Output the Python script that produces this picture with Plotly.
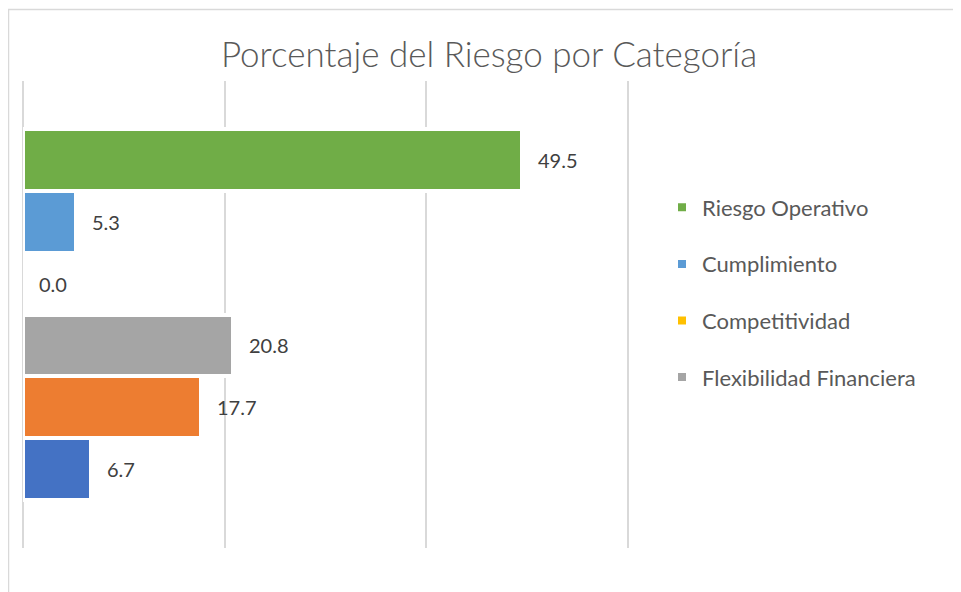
import plotly.graph_objects as go

# Data
series_names = ["Riesgo Operativo", "Cumplimiento", "Competitividad",
                "Flexibilidad Financiera", "Serie 5", "Serie 6"]
values = [49.5, 5.3, 0.0, 20.8, 17.7, 6.7]
colors = ["#70AD47", "#5B9BD5", "#FFC000", "#A5A5A5", "#ED7D31", "#4472C4"]
show_in_legend = [True, True, True, True, False, False]
x_ticks = [0, 20, 40, 60]

# page body has an 8px margin: work in figure coordinates = screen - 8
OFF = 8
W, H = 961 - OFF, 592 - OFF
x0_px, x60_px = 23, 628
x_max = 60.4
px_per_unit = (x60_px - x0_px) / x_ticks[-1]
L = x0_px - OFF
T = 81 - OFF
plot_right = x0_px + x_max * px_per_unit - OFF
plot_bottom = 548 - OFF
R = W - plot_right
B = H - plot_bottom
font_fam = "Lato, 'Open Sans', sans-serif"

fig = go.Figure()
for name, v, c, sl in zip(series_names, values, colors, show_in_legend):
    fig.add_trace(go.Bar(
        x=[v], y=[name], orientation="h", name=name,
        marker=dict(color=c, line=dict(color="white", width=4)),
        showlegend=sl, legendgroup=name, hoverinfo="x+name",
    ))
    fig.add_annotation(
        x=v, y=name, xref="x", yref="y", text=f"{v:.1f}",
        showarrow=False, xanchor="left", xshift=14,
        font=dict(family=font_fam, size=20, color="#404040"),
    )

# chart frame
pw = W - L - R
ph = H - T - B
def px_x(p):
    return (p - OFF - L) / pw
def px_y(p):
    return (plot_bottom - (p - OFF)) / ph

fig.add_shape(type="rect", xref="paper", yref="paper",
              x0=px_x(8.5), x1=px_x(980), y0=px_y(610), y1=px_y(9.5),
              line=dict(color="#D9D9D9", width=1.5), layer="below")

n = len(series_names)
pad = 1.274
fig.update_layout(
    width=W, height=H,
    margin=dict(l=L, r=R, t=T, b=B),
    paper_bgcolor="white", plot_bgcolor="white",
    barmode="overlay", bargap=0,
    title=dict(text="Porcentaje del Riesgo por Categoría",
               x=((221 + 757) / 2 - OFF) / W, xanchor="center", xref="container",
               y=1 - (55 - OFF) / H, yanchor="middle", yref="container",
               font=dict(family=font_fam, size=35, color="#595959", weight=300)),
    xaxis=dict(range=[x_ticks[0], x_max], tickvals=x_ticks, showticklabels=False,
               showgrid=True, gridcolor="#D9D9D9", gridwidth=1.5,
               zeroline=True, zerolinecolor="#D9D9D9", zerolinewidth=1.5,
               showline=False, fixedrange=True),
    yaxis=dict(type="category", categoryorder="array", categoryarray=series_names,
               range=[n - 1 + pad, -pad], showticklabels=False, showgrid=False,
               zeroline=False, showline=False, fixedrange=True),
    legend=dict(xref="container", yref="container", x=(662 - OFF) / W,
                y=1 - (292.5 - OFF) / H,
                xanchor="left", yanchor="middle", tracegroupgap=25,
                font=dict(family=font_fam, size=22, color="#595959"),
                bgcolor="rgba(0,0,0,0)"),
    showlegend=True,
)

fig.write_html("out.html")
